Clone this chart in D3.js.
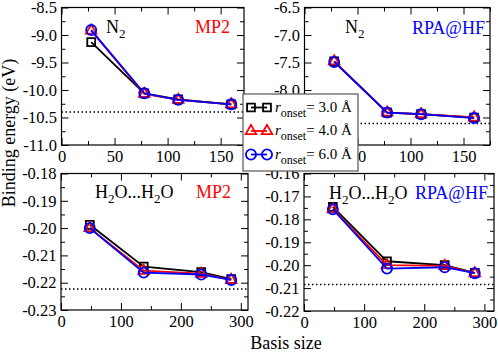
<!DOCTYPE html>
<html>
<head>
<meta charset="utf-8">
<script src="https://cdn.jsdelivr.net/npm/d3@7"></script>
<style>
  body { margin: 0; background: #fff; }
  svg { display: block; }
  svg text { font-family: "Liberation Serif", "Times New Roman", "DejaVu Serif", serif !important; }
</style>
</head>
<body>
<div id="chart"></div>
<script>
// Basis sizes (x values)
const basisN2 = [28, 78, 110, 160];
const basisH2O = [48, 138, 234, 284];

// N2, MP2 (eV), one list per r_onset
const n2Mp2_30 = [-9.13, -10.06, -10.17, -10.26];
const n2Mp2_40 = [-8.92, -10.07, -10.18, -10.26];
const n2Mp2_60 = [-8.91, -10.06, -10.18, -10.26];
const n2Mp2Ref = -10.40;

// N2, RPA@HF (eV)
const n2Rpa_30 = [-7.48, -8.41, -8.44, -8.50];
const n2Rpa_40 = [-7.48, -8.41, -8.44, -8.50];
const n2Rpa_60 = [-7.49, -8.41, -8.44, -8.51];
const n2RpaRef = -8.61;

// H2O...H2O, MP2 (eV)
const h2oMp2_30 = [-0.1988, -0.2141, -0.2161, -0.2187];
const h2oMp2_40 = [-0.2000, -0.2156, -0.2167, -0.2190];
const h2oMp2_60 = [-0.2000, -0.2163, -0.2170, -0.2190];
const h2oMp2Ref = -0.2223;

// H2O...H2O, RPA@HF (eV)
const h2oRpa_30 = [-0.1746, -0.1983, -0.2000, -0.2034];
const h2oRpa_40 = [-0.1756, -0.2000, -0.2003, -0.2035];
const h2oRpa_60 = [-0.1756, -0.2015, -0.2009, -0.2035];
const h2oRpaRef = -0.2084;

const onsetLabels = ["3.0", "4.0", "6.0"];

const W = 498, H = 353;
const FONT = '"Liberation Serif", "Times New Roman", "DejaVu Serif", serif';
const svg = d3.select("#chart").append("svg")
  .attr("width", W)
  .attr("height", H)
  .attr("font-family", FONT);

// one style per r_onset
const styles = [
  { color: "#000000", symbol: d3.symbolSquare, size: 62 },
  { color: "#ff0000", symbol: d3.symbolTriangle, size: 48 },
  { color: "#0000ff", symbol: d3.symbolCircle, size: 80 },
];

const panels = [
  {
    left: 61.5, right: 244, top: 7.5, bottom: 145,
    xDomain: [0, 172], yDomain: [-11, -8.5],
    xStep: 50, xMinor: 25, yStep: 0.5, yMinor: 0.25, yDec: 1,
    x: basisN2, series: [n2Mp2_30, n2Mp2_40, n2Mp2_60], ref: n2Mp2Ref,
    mol: "N2", molX: 106, molY: 33,
    method: "MP2", methodColor: "#ff0000", methodX: 195, methodY: 33,
  },
  {
    left: 304.5, right: 490, top: 7.5, bottom: 145,
    xDomain: [0, 175], yDomain: [-9, -6.5],
    xStep: 50, xMinor: 25, yStep: 0.5, yMinor: 0.25, yDec: 1,
    x: basisN2, series: [n2Rpa_30, n2Rpa_40, n2Rpa_60], ref: n2RpaRef,
    mol: "N2", molX: 345, molY: 33,
    method: "RPA@HF", methodColor: "#0000ff", methodX: 412, methodY: 34,
  },
  {
    left: 61, right: 248, top: 173.5, bottom: 310,
    xDomain: [0, 312], yDomain: [-0.23, -0.18],
    xStep: 100, xMinor: 50, yStep: 0.01, yMinor: 0.005, yDec: 2,
    x: basisH2O, series: [h2oMp2_30, h2oMp2_40, h2oMp2_60], ref: h2oMp2Ref,
    mol: "H2O", molX: 95, molY: 198,
    method: "MP2", methodColor: "#ff0000", methodX: 196, methodY: 198,
  },
  {
    left: 304, right: 494, top: 173.5, bottom: 311,
    xDomain: [0, 316], yDomain: [-0.22, -0.16],
    xStep: 100, xMinor: 50, yStep: 0.01, yMinor: 0.005, yDec: 2,
    x: basisH2O, series: [h2oRpa_30, h2oRpa_40, h2oRpa_60], ref: h2oRpaRef,
    mol: "H2O", molX: 329, molY: 199,
    method: "RPA@HF", methodColor: "#0000ff", methodX: 415, methodY: 199,
  },
];

function ticksBy(lo, hi, step) {
  let out = [];
  let i0 = Math.ceil(lo / step - 1e-9), i1 = Math.floor(hi / step + 1e-9);
  for (let i = i0; i <= i1; i++) out.push(+(i * step).toFixed(6));
  return out;
}

function styleAxis(g) {
  g.attr("font-family", FONT).attr("font-size", 16.5);
  g.select(".domain").remove();
  g.selectAll(".tick line").attr("stroke", "#000").attr("stroke-width", 1);
  g.selectAll(".tick text").attr("fill", "#000");
}

function drawPanel(p) {
  const x = d3.scaleLinear().domain(p.xDomain).range([p.left, p.right]);
  const y = d3.scaleLinear().domain(p.yDomain).range([p.bottom, p.top]);
  const g = svg.append("g");

  const xMaj = ticksBy(p.xDomain[0], p.xDomain[1], p.xStep);
  const xMin = ticksBy(p.xDomain[0], p.xDomain[1], p.xMinor).filter((v) => !xMaj.includes(v));
  const yMaj = ticksBy(p.yDomain[0], p.yDomain[1], p.yStep);
  const yMin = ticksBy(p.yDomain[0], p.yDomain[1], p.yMinor).filter((v) => !yMaj.includes(v));

  // major + minor ticks on all four sides, pointing in
  const sides = [
    { axis: () => d3.axisBottom(x), at: `translate(0,${p.bottom})`, maj: xMaj, min: xMin, lab: true, fmt: (d) => String(d), pad: 5 },
    { axis: () => d3.axisTop(x), at: `translate(0,${p.top})`, maj: xMaj, min: xMin, lab: false },
    { axis: () => d3.axisLeft(y), at: `translate(${p.left},0)`, maj: yMaj, min: yMin, lab: true, fmt: (d) => d.toFixed(p.yDec), pad: 4.5 },
    { axis: () => d3.axisRight(y), at: `translate(${p.right},0)`, maj: yMaj, min: yMin, lab: false },
  ];
  sides.forEach((s) => {
    g.append("g")
      .attr("transform", s.at)
      .call(s.axis().tickValues(s.min).tickSize(-4).tickSizeOuter(0).tickFormat(""))
      .call(styleAxis);
    g.append("g")
      .attr("transform", s.at)
      .call(s.axis().tickValues(s.maj).tickSize(-7).tickSizeOuter(0)
        .tickPadding(s.lab ? s.pad : 0).tickFormat(s.lab ? s.fmt : ""))
      .call(styleAxis);
  });

  // frame
  g.append("rect")
    .attr("x", p.left)
    .attr("y", p.top)
    .attr("width", p.right - p.left)
    .attr("height", p.bottom - p.top)
    .attr("fill", "none")
    .attr("stroke", "#000")
    .attr("stroke-width", 1.2);

  // reference (dotted)
  g.append("line")
    .attr("x1", p.left)
    .attr("x2", p.right)
    .attr("y1", y(p.ref))
    .attr("y2", y(p.ref))
    .attr("stroke", "#000")
    .attr("stroke-width", 1.5)
    .attr("stroke-dasharray", "1.5,2.5");

  // series
  const line = d3.line().x((d) => x(d[0])).y((d) => y(d[1]));
  p.series.forEach((vals, i) => {
    const st = styles[i];
    const pts = vals.map((v, j) => [p.x[j], v]);
    g.append("path")
      .datum(pts)
      .attr("d", line)
      .attr("fill", "none")
      .attr("stroke", st.color)
      .attr("stroke-width", 1.8);
    g.selectAll(null)
      .data(pts)
      .enter()
      .append("path")
      .attr("transform", (d) => `translate(${x(d[0])},${y(d[1])})`)
      .attr("d", d3.symbol(st.symbol, st.size))
      .attr("fill", "none")
      .attr("stroke", st.color)
      .attr("stroke-width", 1.8);
  });

  // molecule label
  const mt = g.append("text")
    .attr("x", p.molX)
    .attr("y", p.molY)
    .attr("font-size", 18)
    .attr("fill", "#000");
  if (p.mol === "N2") {
    mt.append("tspan").text("N");
    mt.append("tspan").attr("dy", 5).attr("font-size", 13).text("2");
  } else {
    mt.append("tspan").text("H");
    mt.append("tspan").attr("dy", 5).attr("font-size", 13).text("2");
    mt.append("tspan").attr("dy", -5).text("O...H");
    mt.append("tspan").attr("dy", 5).attr("font-size", 13).text("2");
    mt.append("tspan").attr("dy", -5).text("O");
  }

  // method label
  g.append("text")
    .attr("x", p.methodX)
    .attr("y", p.methodY)
    .attr("font-size", 18)
    .attr("fill", p.methodColor)
    .text(p.method);
}

panels.forEach(drawPanel);

// Axis titles
svg.append("text")
  .attr("transform", "translate(15,133) rotate(-90)")
  .attr("text-anchor", "middle")
  .attr("font-size", 18)
  .text("Binding energy (eV)");

svg.append("text")
  .attr("x", 286)
  .attr("y", 349)
  .attr("text-anchor", "middle")
  .attr("font-size", 18)
  .text("Basis size");

// Legend
const legend = svg.append("g");
legend.append("rect")
  .attr("x", 243)
  .attr("y", 94)
  .attr("width", 115)
  .attr("height", 77)
  .attr("fill", "#fff")
  .attr("stroke", "#555")
  .attr("stroke-width", 1.2);

onsetLabels.forEach((lab, i) => {
  const st = styles[i];
  const ly = 107.5 + i * 23.5;
  const row = legend.append("g");
  row.append("line")
    .attr("x1", 251)
    .attr("x2", 267)
    .attr("y1", ly)
    .attr("y2", ly)
    .attr("stroke", st.color)
    .attr("stroke-width", 1.8);
  [251, 267].forEach((mx) => {
    row.append("path")
      .attr("transform", `translate(${mx},${ly})`)
      .attr("d", d3.symbol(st.symbol, st.size))
      .attr("fill", "none")
      .attr("stroke", st.color)
      .attr("stroke-width", 1.8);
  });
  const t = row.append("text")
    .attr("x", 275)
    .attr("y", ly + 4)
    .attr("font-size", 15)
    .attr("fill", "#000");
  t.append("tspan").attr("font-style", "italic").text("r");
  t.append("tspan").attr("dy", 5).attr("font-size", 12).text("onset");
  t.append("tspan").attr("dy", -5).text("= " + lab + " Å");
});
</script>
</body>
</html>
